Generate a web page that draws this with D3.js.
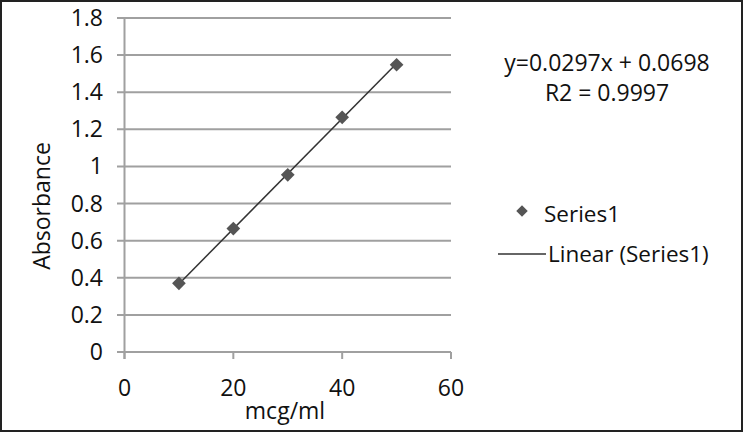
<!DOCTYPE html>
<html>
<head>
<meta charset="utf-8">
<script src="https://cdn.jsdelivr.net/npm/d3@7"></script>
<style>
  body { margin: 0; background: #fff; }
  text { font-family: "Open Sans", "Noto Sans", sans-serif; fill: #111; }
</style>
</head>
<body>
<div id="chartArea"></div>
<script>
// data
let concentrations = [10, 20, 30, 40, 50];
let absorbance = [0.37, 0.665, 0.955, 1.265, 1.548];
let xTicks = [0, 20, 40, 60];
let yTicks = [0, 0.2, 0.4, 0.6, 0.8, 1, 1.2, 1.4, 1.6, 1.8];
let slope = 0.0297;
let intercept = 0.0698;
let equationLines = ["y=0.0297x + 0.0698", "R2 = 0.9997"];
let legendLabels = ["Series1", "Linear (Series1)"];

const W = 743, H = 433;
const FS = 23;
let svg = d3.select('#chartArea').append('svg')
   .attr('width', W)
   .attr('height', H);

// frame around the figure
svg.append('rect')
   .attr('x', 1).attr('y', 1)
   .attr('width', W - 2).attr('height', H - 3)
   .attr('fill', 'none')
   .attr('stroke', '#222')
   .attr('stroke-width', 2);

let x = d3.scaleLinear().domain([0, 60]).range([124.5, 451]);
let y = d3.scaleLinear().domain([0, 1.8]).range([352, 18]);

// horizontal gridlines (with little left tick)
svg.append('g').selectAll('line').data(yTicks)
   .enter().append('line')
   .attr('x1', 117).attr('x2', x(60))
   .attr('y1', d => y(d)).attr('y2', d => y(d))
   .attr('stroke', '#a0a0a0')
   .attr('stroke-width', 2);

// y axis line
svg.append('line')
   .attr('x1', x(0)).attr('x2', x(0))
   .attr('y1', y(1.8)).attr('y2', y(0) + 7)
   .attr('stroke', '#a0a0a0')
   .attr('stroke-width', 2);

// x axis ticks
svg.append('g').selectAll('line').data(xTicks)
   .enter().append('line')
   .attr('x1', d => x(d)).attr('x2', d => x(d))
   .attr('y1', y(0)).attr('y2', y(0) + 7)
   .attr('stroke', '#a0a0a0')
   .attr('stroke-width', 2);

// y tick labels
svg.append('g').selectAll('text').data(yTicks)
   .enter().append('text')
   .attr('x', 103)
   .attr('y', d => y(d) + 8)
   .attr('text-anchor', 'end')
   .attr('font-size', FS)
   .text(d => d3.format('~g')(d));

// x tick labels
svg.append('g').selectAll('text').data(xTicks)
   .enter().append('text')
   .attr('x', d => x(d))
   .attr('y', 396)
   .attr('text-anchor', 'middle')
   .attr('font-size', FS)
   .text(d => d);

// axis titles
svg.append('text')
   .attr('x', 285).attr('y', 419)
   .attr('text-anchor', 'middle')
   .attr('font-size', FS)
   .text('mcg/ml');

svg.append('text')
   .attr('transform', 'translate(50,206) rotate(-90)')
   .attr('text-anchor', 'middle')
   .attr('font-size', FS)
   .text('Absorbance');

// linear trendline
let trendX = d3.extent(concentrations);
svg.append('line')
   .attr('x1', x(trendX[0])).attr('y1', y(slope * trendX[0] + intercept))
   .attr('x2', x(trendX[1])).attr('y2', y(slope * trendX[1] + intercept))
   .attr('stroke', '#333')
   .attr('stroke-width', 1.5);

// markers
let diamond = d3.symbol().type(d3.symbolDiamond2).size(120);
svg.append('g').selectAll('path').data(concentrations)
   .enter().append('path')
   .attr('d', diamond)
   .attr('transform', (d, i) => `translate(${x(d)},${y(absorbance[i])})`)
   .attr('fill', '#555');

// equation text
svg.append('g').selectAll('text').data(equationLines)
   .enter().append('text')
   .attr('x', 607)
   .attr('y', (d, i) => 71 + i * 30)
   .attr('text-anchor', 'middle')
   .attr('font-size', FS)
   .text(d => d);

// legend
svg.append('path')
   .attr('d', d3.symbol().type(d3.symbolDiamond2).size(85))
   .attr('transform', 'translate(522,211)')
   .attr('fill', '#555');
svg.append('text')
   .attr('x', 544).attr('y', 222)
   .attr('font-size', 22.5)
   .text(legendLabels[0]);
svg.append('line')
   .attr('x1', 498).attr('x2', 546)
   .attr('y1', 254).attr('y2', 254)
   .attr('stroke', '#333')
   .attr('stroke-width', 1.5);
svg.append('text')
   .attr('x', 548).attr('y', 262)
   .attr('font-size', 22.5)
   .text(legendLabels[1]);
</script>
</body>
</html>
